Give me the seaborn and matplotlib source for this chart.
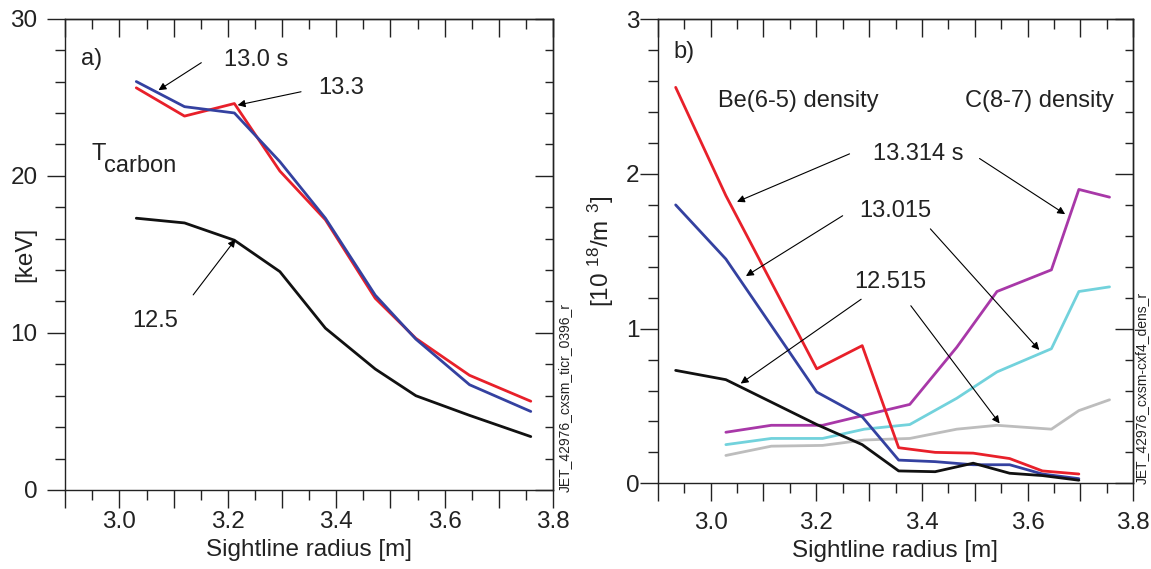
import numpy as np
import pandas as pd
import matplotlib
matplotlib.use("Agg")
import matplotlib.pyplot as plt
from matplotlib.ticker import MultipleLocator, FuncFormatter
import seaborn as sns

# ---------------- data ----------------
# panel a: carbon temperature [keV]
r_a = [3.031, 3.120, 3.212, 3.296, 3.380, 3.472, 3.547, 3.646, 3.759]
T_125 = [17.3, 17.0, 15.9, 13.9, 10.3, 7.7, 6.0, 4.75, 3.4]
T_130 = [26.0, 24.4, 24.0, 20.9, 17.3, 12.4, 9.6, 6.7, 5.0]
T_133 = [25.6, 23.8, 24.6, 20.3, 17.2, 12.2, 9.65, 7.3, 5.65]

# panel b: Be(6-5) density [1e18/m3]
r_be = [2.934, 3.029, 3.201, 3.287, 3.356, 3.425, 3.497, 3.566, 3.628, 3.697]
be_13314 = [2.56, 1.86, 0.74, 0.89, 0.23, 0.20, 0.195, 0.16, 0.08, 0.06]
be_13015 = [1.80, 1.45, 0.59, 0.43, 0.15, 0.14, 0.12, 0.12, 0.06, 0.03]
be_12515 = [0.73, 0.67, 0.38, 0.25, 0.08, 0.075, 0.13, 0.065, 0.05, 0.02]

# panel b: C(8-7) density [1e18/m3]
r_c = [3.029, 3.115, 3.212, 3.291, 3.377, 3.466, 3.542, 3.645, 3.697, 3.755]
c_13314 = [0.33, 0.375, 0.375, 0.44, 0.51, 0.88, 1.24, 1.38, 1.90, 1.85]
c_13015 = [0.25, 0.29, 0.29, 0.35, 0.38, 0.55, 0.72, 0.87, 1.24, 1.27]
c_12515 = [0.18, 0.24, 0.245, 0.28, 0.29, 0.35, 0.375, 0.35, 0.47, 0.54]

x_label = "Sightline radius [m]"

# ---------------- style ----------------
sns.set_theme(style="white")
plt.rcParams['font.family'] = ['Liberation Sans', 'DejaVu Sans']
plt.rcParams['mathtext.fontset'] = 'custom'
plt.rcParams['mathtext.rm'] = 'Liberation Sans'
plt.rcParams['mathtext.it'] = 'Liberation Sans'
plt.rcParams['axes.edgecolor'] = '#222222'
plt.rcParams['axes.linewidth'] = 1.0

RED = '#e8202a'
BLUE = '#3441a0'
BLACK = '#111111'
MAG = '#a838a8'
CYAN = '#72d2dc'
GRAY = '#bdbdbd'

W, H = 1151, 569
fig = plt.figure(figsize=(W / 100, H / 100), dpi=100)

def px_axes(l, t, r, b):
    return fig.add_axes([l / W, 1 - b / H, (r - l) / W, (b - t) / H])

axA = px_axes(65.3, 18.7, 553, 490)
axB = px_axes(657.7, 19.3, 1133.3, 483.3)

TICK_FS = 17.5
LAB_FS = 17.5
TXT_FS = 17

def xfmt(v, pos):
    k = int(round(v * 10))
    if k % 2 == 0 and k >= 30:
        return f"{v:.1f}"
    return ""

def style_axes(ax, ymaj, ymin, ypad, xpad):
    ax.set_xlim(2.9, 3.8)
    ax.xaxis.set_major_locator(MultipleLocator(0.1))
    ax.xaxis.set_minor_locator(MultipleLocator(0.05))
    ax.xaxis.set_major_formatter(FuncFormatter(xfmt))
    ax.yaxis.set_major_locator(MultipleLocator(ymaj))
    ax.yaxis.set_minor_locator(MultipleLocator(ymin))
    ax.yaxis.set_major_formatter(FuncFormatter(lambda v, p: f"{v:g}"))
    ax.tick_params(axis='both', which='both', direction='out', color='#222222',
                   bottom=True, left=True, top=False, right=False,
                   width=1.0, labelsize=TICK_FS, labelcolor='#222222')
    ax.tick_params(axis='both', which='major', length=13)
    ax.tick_params(axis='both', which='minor', length=7)
    ax.tick_params(axis='y', pad=ypad)
    ax.tick_params(axis='x', pad=xpad)
    # inward ticks on top and right
    top = ax.secondary_xaxis('top')
    top.xaxis.set_major_locator(MultipleLocator(0.1))
    top.xaxis.set_minor_locator(MultipleLocator(0.05))
    top.tick_params(axis='x', which='both', direction='in', labeltop=False,
                    top=True, color='#222222', width=1.0)
    top.tick_params(axis='x', which='major', length=13)
    top.tick_params(axis='x', which='minor', length=7)
    right = ax.secondary_yaxis('right')
    right.yaxis.set_major_locator(MultipleLocator(ymaj))
    right.yaxis.set_minor_locator(MultipleLocator(ymin))
    right.tick_params(axis='y', which='both', direction='in', labelright=False,
                      right=True, color='#222222', width=1.0)
    right.tick_params(axis='y', which='major', length=13)
    right.tick_params(axis='y', which='minor', length=6)
    for s in ax.spines.values():
        s.set_visible(True)
        s.set_color('#222222')

# ---------------- panel a ----------------
dfA = pd.concat([
    pd.DataFrame({'r': r_a, 'v': T_125, 's': '12.5'}),
    pd.DataFrame({'r': r_a, 'v': T_130, 's': '13.0'}),
    pd.DataFrame({'r': r_a, 'v': T_133, 's': '13.3'}),
])
sns.lineplot(data=dfA, x='r', y='v', hue='s', hue_order=['12.5', '13.3', '13.0'],
             palette={'12.5': BLACK, '13.0': BLUE, '13.3': RED},
             sort=False, estimator=None, lw=2.0, legend=False, ax=axA)
axA.set_ylim(0, 30)
style_axes(axA, 10, 2, 7, 2)
axA.set_xlabel(x_label, fontsize=LAB_FS, color='#222222')
axA.set_ylabel('[keV]', fontsize=LAB_FS, color='#222222')
axA.xaxis.set_label_coords(0.5, -0.105)
axA.xaxis.label.set_va('top')
axA.yaxis.set_label_coords(-0.06, 0.5)

arrow = dict(arrowstyle='-|>', color='black', lw=0.8, mutation_scale=11,
             shrinkA=0, shrinkB=0)
kw = dict(fontsize=TXT_FS, color='#222222', ha='left', va='center')
axA.text(2.929, 27.45, 'a)', **kw)
axA.text(3.192, 27.35, '13.0 s', **kw)
axA.annotate('', xy=(3.072, 25.45), xytext=(3.151, 27.2), arrowprops=arrow)
axA.text(3.366, 25.6, '13.3', **kw)
axA.annotate('', xy=(3.218, 24.5), xytext=(3.335, 25.35), arrowprops=arrow)
axA.text(2.949, 21.4, 'T', **kw)
axA.text(2.972, 20.6, 'carbon', **kw)
axA.text(3.023, 10.75, '12.5', **kw)
axA.annotate('', xy=(3.214, 15.95), xytext=(3.136, 12.42), arrowprops=arrow)

fig.text(565 / W, (H - 492) / H, 'JET_42976_cxsm_ticr_0396_r', rotation=90,
         ha='center', va='bottom', fontsize=10, color='#222222')

# ---------------- panel b ----------------
dfB = pd.concat([
    pd.DataFrame({'r': r_c, 'v': c_12515, 's': 'C 12.515'}),
    pd.DataFrame({'r': r_c, 'v': c_13015, 's': 'C 13.015'}),
    pd.DataFrame({'r': r_c, 'v': c_13314, 's': 'C 13.314'}),
    pd.DataFrame({'r': r_be, 'v': be_13015, 's': 'Be 13.015'}),
    pd.DataFrame({'r': r_be, 'v': be_13314, 's': 'Be 13.314'}),
    pd.DataFrame({'r': r_be, 'v': be_12515, 's': 'Be 12.515'}),
])
palB = {'C 12.515': GRAY, 'C 13.015': CYAN, 'C 13.314': MAG,
        'Be 13.015': BLUE, 'Be 13.314': RED, 'Be 12.515': BLACK}
sns.lineplot(data=dfB, x='r', y='v', hue='s', hue_order=list(palB.keys()),
             palette=palB, sort=False, estimator=None, lw=2.0, legend=False, ax=axB)
axB.set_ylim(0, 3)
style_axes(axB, 1, 0.2, 0, 8)
axB.set_xlabel(x_label, fontsize=LAB_FS, color='#222222')
axB.set_ylabel('[10 $\\mathregular{^{18}}$/m $\\mathregular{^{3}}$]', fontsize=LAB_FS,
               color='#222222')
axB.xaxis.set_label_coords(0.5, -0.122)
axB.xaxis.label.set_va('top')
axB.yaxis.set_label_coords(-0.087, 0.5)

axB.text(2.930, 2.79, 'b)', **kw)
axB.text(3.014, 2.47, 'Be(6-5) density', **kw)
axB.text(3.482, 2.47, 'C(8-7) density', **kw)
axB.text(3.308, 2.13, '13.314 s', **kw)
axB.annotate('', xy=(3.050, 1.82), xytext=(3.263, 2.13), arrowprops=arrow)
axB.annotate('', xy=(3.671, 1.74), xytext=(3.509, 2.10), arrowprops=arrow)
axB.text(3.281, 1.76, '13.015', **kw)
axB.annotate('', xy=(3.067, 1.34), xytext=(3.250, 1.73), arrowprops=arrow)
axB.annotate('', xy=(3.622, 0.862), xytext=(3.416, 1.645), arrowprops=arrow)
axB.text(3.272, 1.30, '12.515', **kw)
axB.annotate('', xy=(3.057, 0.645), xytext=(3.285, 1.19), arrowprops=arrow)
axB.annotate('', xy=(3.547, 0.387), xytext=(3.379, 1.148), arrowprops=arrow)

fig.text(1141.5 / W, (H - 484) / H, 'JET_42976_cxsm-cxf4_dens_r', rotation=90,
         ha='center', va='bottom', fontsize=10, color='#222222')

fig.savefig('out.png', dpi=100)
